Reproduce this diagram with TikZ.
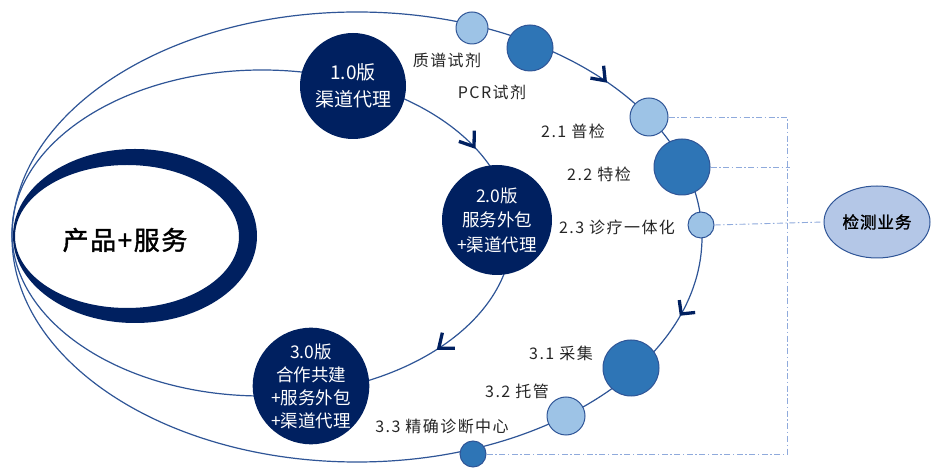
\documentclass[tikz,border=0pt]{standalone}
\usepackage{fontspec}
\newfontfamily\cjk{Noto Sans CJK SC}
\newfontfamily\cjks{Noto Sans CJK SC}[LetterSpace=9]
\newfontfamily\cjkb{Noto Sans CJK SC}[FakeBold=1.5,LetterSpace=6]
\usetikzlibrary{shapes.geometric}
\definecolor{navy}{HTML}{002060}
\definecolor{lineblue}{HTML}{2F5597}
\definecolor{midblue}{HTML}{2E75B6}
\definecolor{lightblue}{HTML}{9DC3E6}
\definecolor{jcfill}{HTML}{B4C7E7}
\definecolor{dashblue}{HTML}{8FAADC}
\definecolor{labelgray}{HTML}{262626}
\begin{document}
\begin{tikzpicture}[x=1pt,y=1pt,
  orbit/.style={draw=lineblue, line width=1.2pt},
  chev/.style={draw=navy, line width=3.3pt, line join=miter, line cap=butt},
  verdisk/.style={circle, fill=navy, inner sep=0pt, text=white, align=center},
  darkdot/.style={circle, fill=midblue, draw=lineblue, line width=1pt, inner sep=0pt},
  lightdot/.style={circle, fill=lightblue, draw=lineblue, line width=1pt, inner sep=0pt},
  lbl/.style={font=\cjks\fontsize{16}{18}\selectfont, text=labelgray, inner sep=0pt},
  dashlink/.style={draw=dashblue, line width=0.9pt, dash pattern=on 6pt off 2.5pt on 1.5pt off 2.5pt}
]
\useasboundingbox (0,0) rectangle (933,468);
\fill[white] (0,0) rectangle (933,468);

% orbits
\draw[orbit] (357,231) ellipse [x radius=345, y radius=225];
\draw[orbit] (262,235) ellipse [x radius=250, y radius=163];

% arrow heads (open chevrons) on the orbits
\path (357,231) ++(44:345 and 225) coordinate (a1);
\path (357,231) ++(-20:345 and 225) coordinate (a2);
\path (262,235) ++(32:250 and 163) coordinate (a3);
\path (262,235) ++(-45:250 and 163) coordinate (a4);
\draw[chev] (a1) ++(170:15) -- (a1) -- ++(96:15);
\draw[chev] (a2) ++(98:14) -- (a2) -- ++(6:14);
\draw[chev] (a3) ++(161:16) -- (a3) -- ++(89:16);
\draw[chev] (a4) ++(77:16) -- (a4) -- ++(0:16);

% crescent
\fill[navy, even odd rule] (135,232) ellipse [x radius=122, y radius=87]
                           (127,231.5) ellipse [x radius=112, y radius=71.5];
\node[font=\cjkb\fontsize{26}{30}\selectfont, text=black] (ps) at (125,228) {产品+服务};

% version disks
\node[verdisk, minimum size=106pt, font=\cjk\fontsize{19}{27}\selectfont] (v1) at (353,382) {1.0版\\渠道代理};
\node[verdisk, minimum size=110pt, font=\cjk\fontsize{17.5}{24.5}\selectfont] (v2) at (497,248) {2.0版\\服务外包\\+渠道代理};
\node[verdisk, minimum size=116pt, font=\cjk\fontsize{17.5}{23}\selectfont] (v3) at (311,82) {3.0版\\合作共建\\+服务外包\\+渠道代理};

% dots on the outer orbit
\node[lightdot, minimum size=32pt] (c0a) at (472,440) {};
\node[darkdot, minimum size=46pt] (c0b) at (530,420) {};
\node[lightdot, minimum size=38pt] (c21) at (649,351) {};
\node[darkdot, minimum size=56pt] (c22) at (682,301) {};
\node[lightdot, minimum size=26pt] (c23) at (701,243) {};
\node[darkdot, minimum size=56pt] (c31) at (631,100) {};
\node[lightdot, minimum size=38pt] (c32) at (566,52) {};
\node[darkdot, minimum size=26pt] (c33) at (473,14) {};

% testing business
\node[ellipse, draw=lineblue, line width=1pt, fill=jcfill, minimum width=106pt, minimum height=72pt, inner sep=0pt,
      font=\cjkb\fontsize{16.5}{18}\selectfont, text=black] (jc) at (877,246) {检测业务};

% dashed links
\coordinate (d1) at (787,351);
\coordinate (d2) at (787,14);
\coordinate (d3) at (790,301);
\draw[dashlink] (c21.east) -- (d1) -- (d2) -- (c33.east);
\draw[dashlink] (c22.east) -- (d3);
\draw[dashlink] (c23.east) -- (jc.west);

% labels
\node[lbl] (l1) at (447,408) {质谱试剂};
\node[lbl] (l2) at (492,376) {PCR试剂};
\node[lbl] (l3) at (573,337) {2.1\ 普检};
\node[lbl] (l4) at (599,294) {2.2\ 特检};
\node[lbl] (l5) at (617,241) {2.3\ 诊疗一体化};
\node[lbl] (l6) at (561,115) {3.1\ 采集};
\node[lbl] (l7) at (517,77) {3.2\ 托管};
\node[lbl] (l8) at (442,42) {3.3\ 精确诊断中心};
\end{tikzpicture}
\end{document}
